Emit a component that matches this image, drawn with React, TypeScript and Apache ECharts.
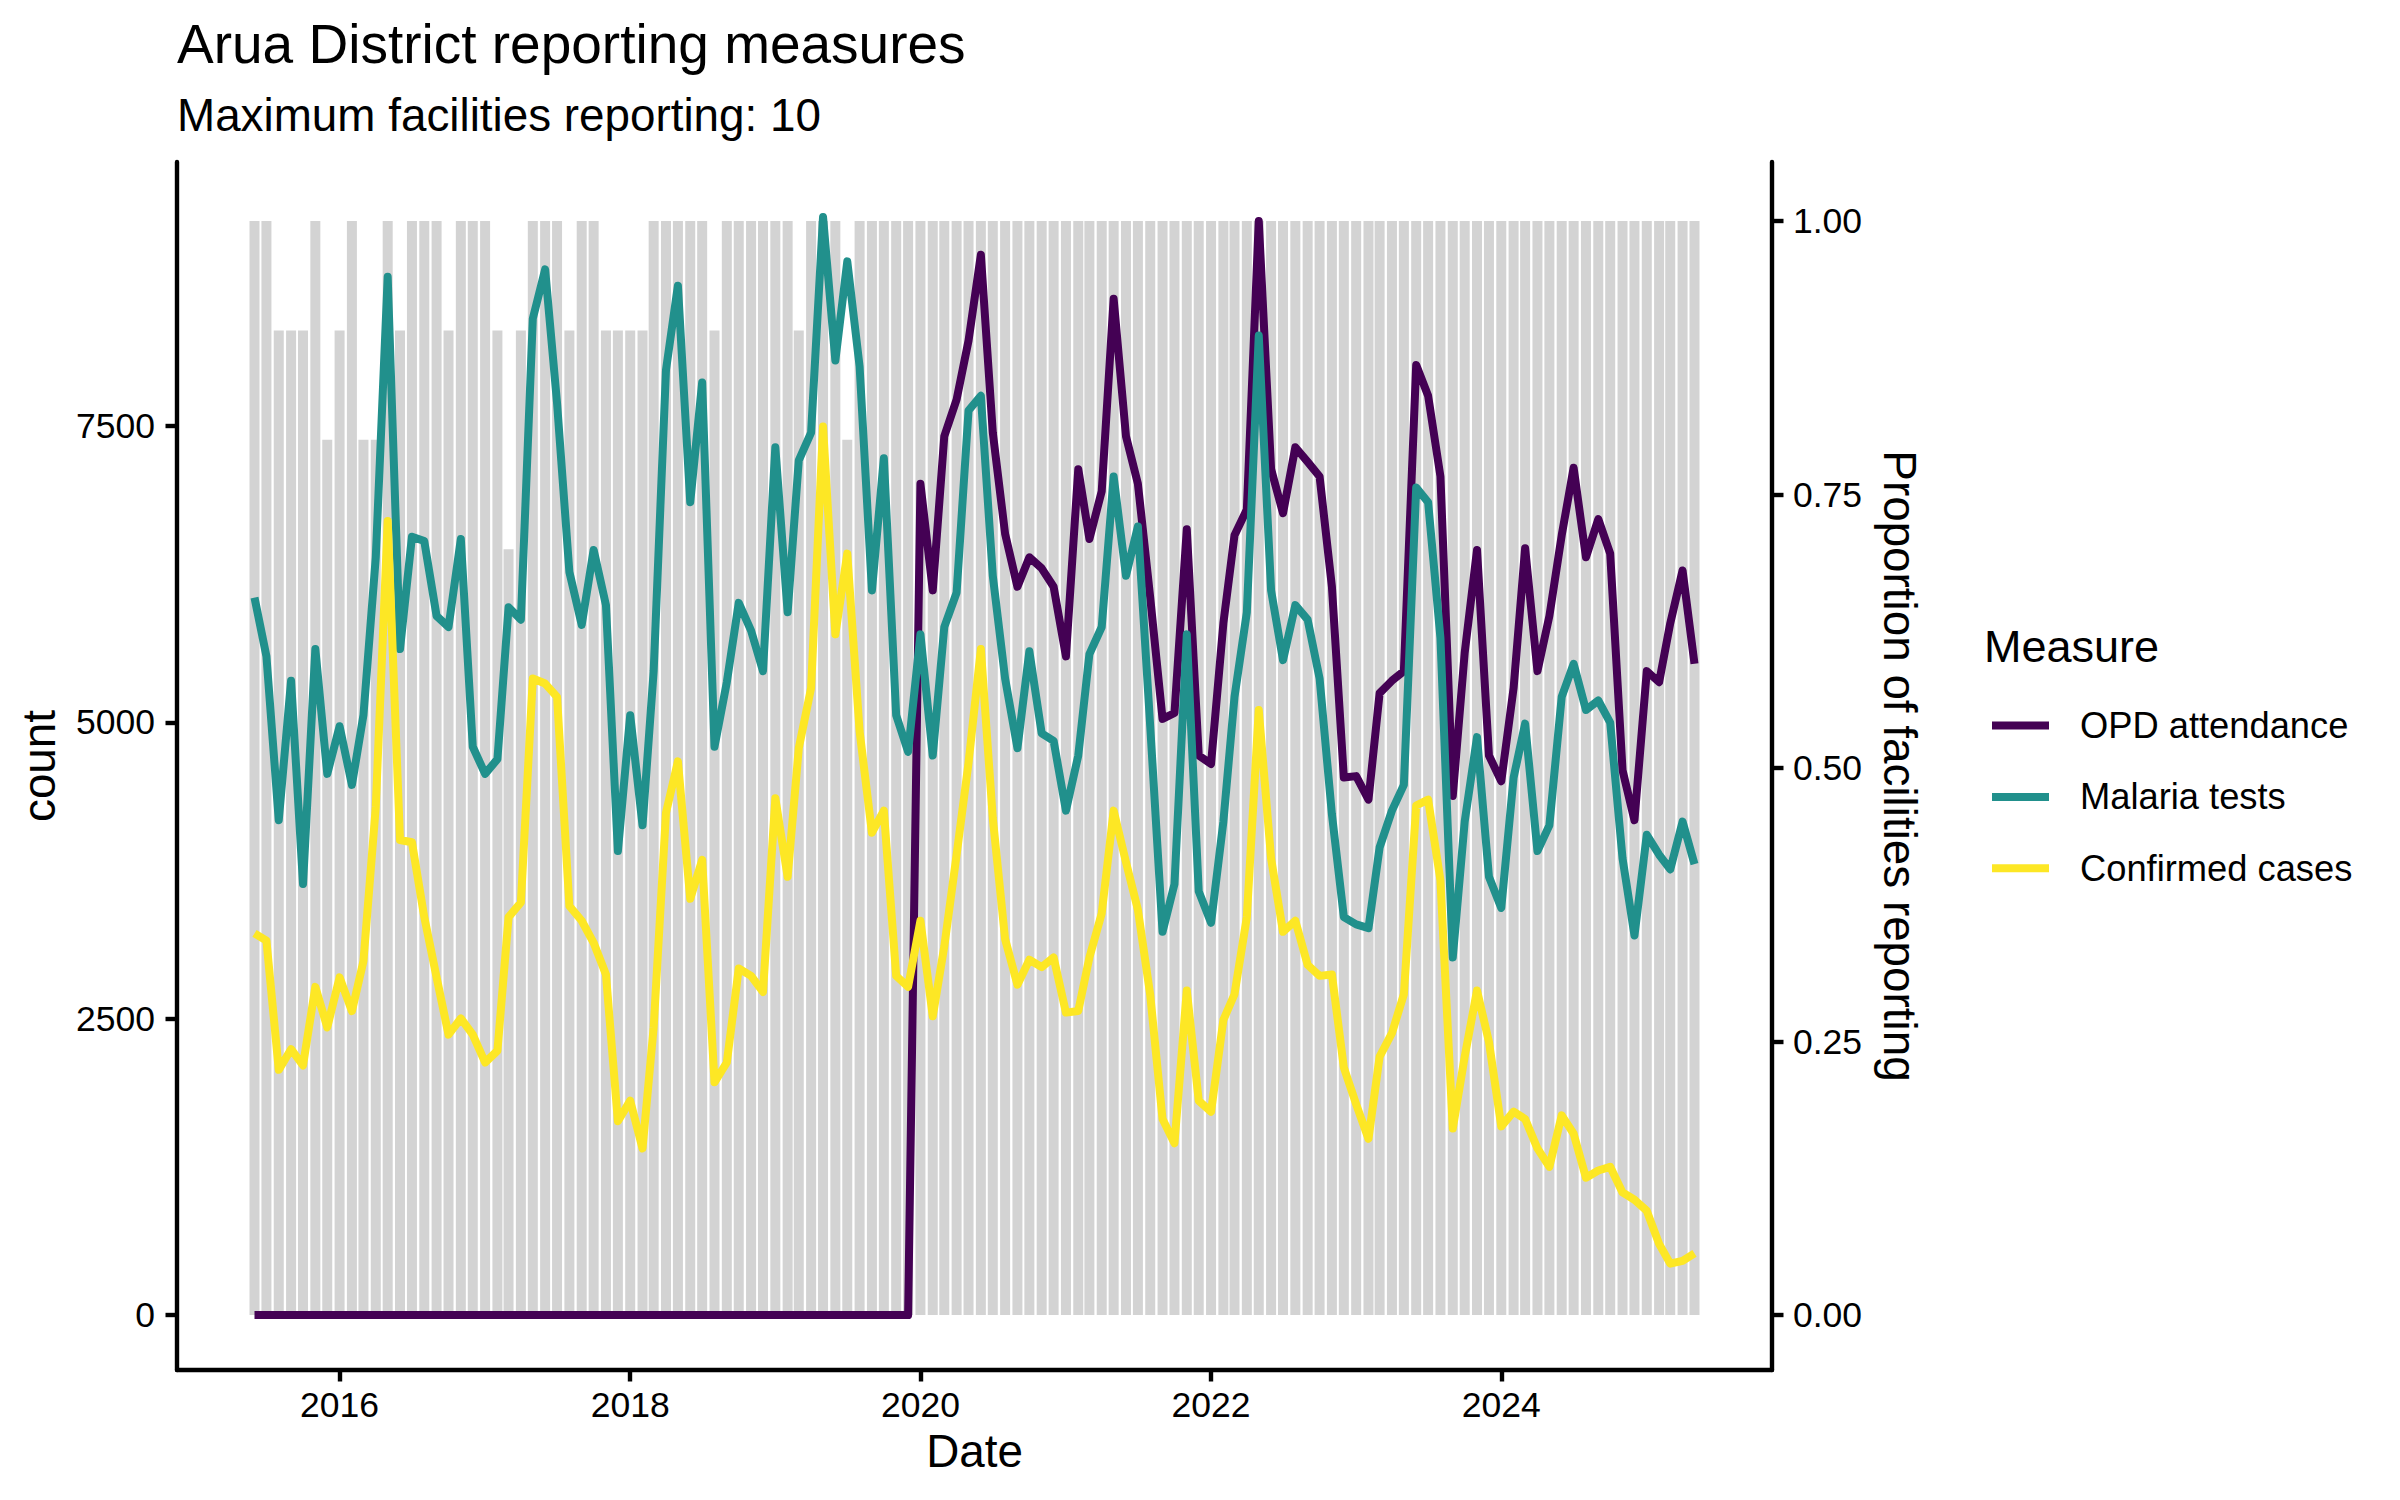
import React, { useEffect, useRef } from "react";
import * as echarts from "echarts";

// ---------------- data ----------------
const FIRST_YEAR = 2015;
const FIRST_MONTH_INDEX = 5; // June (0-based)
const N_MONTHS = 120; // Jun 2015 .. May 2025
const monthDates: number[] = Array.from({ length: N_MONTHS }, (_, i) =>
  Date.UTC(FIRST_YEAR, FIRST_MONTH_INDEX + i, 1)
);

const seriesNames = ["OPD attendance", "Malaria tests", "Confirmed cases"];
const seriesColors = ["#440154", "#21908C", "#FDE725"];

const opdAttendance = [
  0, 0, 0, 0, 0, 0, 0, 0, 0, 0, 0,
  0, 0, 0, 0, 0, 0, 0, 0, 0, 0, 0,
  0, 0, 0, 0, 0, 0, 0, 0, 0, 0, 0,
  0, 0, 0, 0, 0, 0, 0, 0, 0, 0, 0,
  0, 0, 0, 0, 0, 0, 0, 0, 0, 0, 0,
  7013, 6114, 7415, 7725, 8221, 8946, 7446, 6591, 6145, 6393,
  6300, 6145, 5557, 7137, 6548, 6951, 8574, 7415, 7013, 6053,
  5030, 5080, 6629, 4721, 4650, 5836, 6579, 6796, 9230, 7137,
  6765, 7322, 7198, 7075, 6145, 4535, 4547, 4349, 5247, 5352,
  5433, 8016, 7756, 7075, 4380, 5588, 6455, 4721, 4504, 5290,
  6470, 5433, 5898, 6579, 7149, 6393, 6715, 6424, 4597, 4175,
  5433, 5340, 5836, 6282, 5495,
];

const malariaTests = [
  6053, 5557, 4175, 5352, 3636, 5619, 4566, 4968, 4473, 5061,
  6393, 8760, 5619, 6567, 6530, 5898, 5805, 6548, 4795, 4566,
  4690, 5972, 5867, 8407, 8822, 7694, 6269, 5823, 6455, 5990,
  3915, 5061, 4132, 5433, 7973, 8685, 6858, 7868, 4795, 5340,
  6009, 5774, 5433, 7322, 5929, 7211, 7446, 9265, 8054, 8890,
  8004, 6114, 7229, 5061, 4752, 5743, 4721, 5805, 6096, 7632,
  7756, 6238, 5371, 4783, 5600, 4907, 4845, 4256, 4721, 5576,
  5805, 7075, 6238, 6653, 4968, 3234, 3636, 5743, 3575, 3310,
  4163, 5216, 5929, 8264, 6114, 5526, 5990, 5867, 5371, 4225,
  3358, 3296, 3265, 3946, 4256, 4473, 6982, 6858, 5712, 3017,
  4163, 4876, 3698, 3435, 4535, 4990, 3915, 4132, 5216, 5495,
  5105, 5185, 4999, 3853, 3203, 4052, 3884, 3760, 4163, 3804,
];

const confirmedCases = [
  3221, 3159, 2069, 2243, 2106, 2769, 2428, 2849, 2565, 2986,
  4287, 6700, 4008, 3989, 3358, 2849, 2366, 2503, 2366, 2131,
  2230, 3358, 3481, 5371, 5328, 5216, 3451, 3327, 3141, 2874,
  1635, 1809, 1406, 2428, 4237, 4671, 3512, 3841, 1964, 2131,
  2924, 2862, 2726, 4361, 3698, 4783, 5291, 7496, 5743, 6424,
  4925, 4070, 4256, 2862, 2769, 3327, 2521, 3110, 3884, 4659,
  5619, 4194, 3172, 2787, 2998, 2936, 3017, 2552, 2565, 3017,
  3389, 4256, 3822, 3420, 2701, 1654, 1450, 2738, 1809, 1716,
  2490, 2707, 3358, 5105, 3853, 3234, 3327, 2955, 2862, 2874,
  2088, 1778, 1487, 2181, 2379, 2707, 4299, 4349, 3667, 1574,
  2181, 2738, 2305, 1592, 1716, 1654, 1406, 1251, 1685, 1530,
  1159, 1220, 1251, 1035, 973, 880, 601, 434, 458, 520,
];

const proportionReporting = [
  1, 1, 0.9, 0.9, 0.9, 1, 0.8, 0.9, 1, 0.8,
  0.8, 1, 0.9, 1, 1, 1, 0.9, 1, 1, 1,
  0.9, 0.7, 0.9, 1, 1, 1, 0.9, 1, 1, 0.9,
  0.9, 0.9, 0.9, 1, 1, 1, 1, 1, 0.9, 1,
  1, 1, 1, 1, 1, 0.9, 1, 1, 1, 0.8,
  1, 1, 1, 1, 1, 1, 1, 1, 1, 1,
  1, 1, 1, 1, 1, 1, 1, 1, 1, 1,
  1, 1, 1, 1, 1, 1, 1, 1, 1, 1,
  1, 1, 1, 1, 1, 1, 1, 1, 1, 1,
  1, 1, 1, 1, 1, 1, 1, 1, 1, 1,
  1, 1, 1, 1, 1, 1, 1, 1, 1, 1,
  1, 1, 1, 1, 1, 1, 1, 1, 1, 1,
];

const countTicks = [0, 2500, 5000, 7500];
const proportionTicks = [0, 0.25, 0.5, 0.75, 1];
const yearTicks = [2016, 2018, 2020, 2022, 2024];

const TITLE = "Arua District reporting measures";
const SUBTITLE = "Maximum facilities reporting: 10";

// ---------------- layout ----------------
const W = 2400;
const H = 1500;
const FONT = "'Liberation Sans', Arial, Helvetica, sans-serif";
const PROP_SCALE = 9230; // count equivalent of proportion 1.0
const DATA_MAX = 9265;
const Y_MIN = -0.05 * DATA_MAX;
const Y_MAX = DATA_MAX * 1.05;
const DAY = 864e5;
const X_PAD_DAYS = 194.96;
const X_MIN = monthDates[0] - X_PAD_DAYS * DAY;
const X_MAX = monthDates[N_MONTHS - 1] + X_PAD_DAYS * DAY;

const GRID = { left: 177, right: W - 1772, top: 162, bottom: H - 1370 };
const AXIS_W = 4.4;
const TICK_LEN = 11.5;
const TICK_FONT = 35.5;

function App() {
  const ref = useRef<HTMLDivElement>(null);

  useEffect(() => {
    document.body.style.margin = "0";
    if (!ref.current) return;
    const chart = echarts.init(ref.current, null, {
      renderer: "svg",
      width: W,
      height: H,
    });

    const axisCommon = {
      splitLine: { show: false },
      axisLine: { show: true, onZero: false, lineStyle: { color: "#000", width: AXIS_W } },
      axisTick: { show: true, length: TICK_LEN, lineStyle: { color: "#000", width: AXIS_W } },
    };

    const lineSeries = [opdAttendance, malariaTests, confirmedCases].map((vals, k) => ({
      name: seriesNames[k],
      type: "line",
      xAxisIndex: 0,
      yAxisIndex: 0,
      data: vals.map((v, i) => [monthDates[i], v]),
      showSymbol: false,
      symbol: "none",
      itemStyle: { color: seriesColors[k] },
      lineStyle: { color: seriesColors[k], width: 8, join: "round", cap: "butt" },
      silent: true,
      z: 3 + k,
    }));

    const option: any = {
      animation: false,
      backgroundColor: "#fff",
      textStyle: { fontFamily: FONT },
      grid: { ...GRID, containLabel: false },
      xAxis: [
        {
          type: "value",
          min: X_MIN,
          max: X_MAX,
          ...axisCommon,
          axisTick: {
            ...axisCommon.axisTick,
            customValues: yearTicks.map((y) => Date.UTC(y, 0, 1)),
          },
          axisLabel: {
            customValues: yearTicks.map((y) => Date.UTC(y, 0, 1)),
            formatter: (v: number) => String(new Date(v).getUTCFullYear()),
            color: "#000",
            fontSize: TICK_FONT,
            fontFamily: FONT,
            margin: 17,
          },
        },
      ],
      yAxis: [
        {
          type: "value",
          position: "left",
          min: Y_MIN,
          max: Y_MAX,
          ...axisCommon,
          axisTick: { ...axisCommon.axisTick, customValues: countTicks },
          axisLabel: {
            customValues: countTicks,
            formatter: (v: number) => String(v),
            color: "#000",
            fontSize: TICK_FONT,
            fontFamily: FONT,
            margin: 22,
          },
        },
        {
          type: "value",
          position: "right",
          min: Y_MIN / PROP_SCALE,
          max: Y_MAX / PROP_SCALE,
          ...axisCommon,
          axisTick: { ...axisCommon.axisTick, customValues: proportionTicks },
          axisLabel: {
            customValues: proportionTicks,
            formatter: (v: number) => v.toFixed(2),
            color: "#000",
            fontSize: TICK_FONT,
            fontFamily: FONT,
            margin: 21,
          },
        },
      ],
      legend: {
        show: true,
        orient: "vertical",
        left: 1987,
        top: 702.5,
        icon: "rect",
        itemWidth: 57,
        itemHeight: 8,
        itemGap: 35.4,
        selectedMode: false,
        data: seriesNames,
        textStyle: {
          color: "#000",
          fontSize: 36.3,
          fontFamily: FONT,
          padding: [0, 0, 0, 26],
        },
      },
      graphic: [
        {
          type: "text",
          x: 177,
          y: 44,
          style: { text: TITLE, fontSize: 55, fontFamily: FONT, fill: "#000", align: "left", verticalAlign: "middle" },
        },
        {
          type: "text",
          x: 177,
          y: 115,
          style: { text: SUBTITLE, fontSize: 45.8, fontFamily: FONT, fill: "#000", align: "left", verticalAlign: "middle" },
        },
        {
          type: "text",
          x: 39,
          y: 766,
          rotation: Math.PI / 2,
          style: { text: "count", fontSize: 45.8, fontFamily: FONT, fill: "#000", align: "center", verticalAlign: "middle" },
        },
        {
          type: "text",
          x: 974.5,
          y: 1451,
          style: { text: "Date", fontSize: 45.8, fontFamily: FONT, fill: "#000", align: "center", verticalAlign: "middle" },
        },
        {
          type: "text",
          x: 1899,
          y: 766,
          rotation: -Math.PI / 2,
          style: {
            text: "Proportion of facilities reporting",
            fontSize: 45.8,
            fontFamily: FONT,
            fill: "#000",
            align: "center",
            verticalAlign: "middle",
          },
        },
        {
          type: "text",
          x: 1984,
          y: 646.4,
          style: { text: "Measure", fontSize: 45, fontFamily: FONT, fill: "#000", align: "left", verticalAlign: "middle" },
        },
      ],
      series: [
        {
          name: "Proportion reporting",
          type: "bar",
          xAxisIndex: 0,
          yAxisIndex: 1,
          data: proportionReporting.map((p, i) => [monthDates[i], p]),
          barWidth: 10,
          itemStyle: { color: "#D3D3D3" },
          silent: true,
          z: 2,
        },
        ...lineSeries,
      ],
    };

    chart.setOption(option);
    return () => {
      chart.dispose();
    };
  }, []);

  return <div ref={ref} style={{ width: W, height: H }} />;
}

export default App;
